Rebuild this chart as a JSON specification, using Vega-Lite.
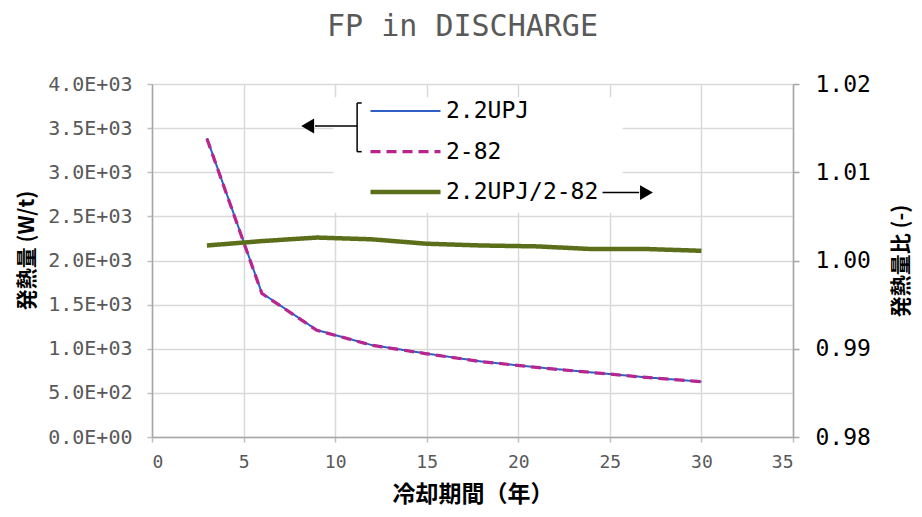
{
  "$schema": "https://vega.github.io/schema/vega-lite/v6.json",
  "autosize": "none",
  "width": 641,
  "height": 353,
  "padding": {"left": 152, "top": 84, "right": 129, "bottom": 80},
  "background": "white",
  "title": {"text": "FP in DISCHARGE", "fontSize": 30, "font": "DejaVu Sans Mono", "fontWeight": "normal", "color": "#595959", "offset": 31, "dx": -10, "anchor": "middle"},
  "config": {
    "view": {"stroke": null},
    "font": "Noto Sans CJK JP"
  },
  "datasets": {
    "heat": [
      {"t": 3, "series": "2.2UPJ", "value": 3385},
      {"t": 6, "series": "2.2UPJ", "value": 1630},
      {"t": 9, "series": "2.2UPJ", "value": 1212},
      {"t": 12, "series": "2.2UPJ", "value": 1042},
      {"t": 15, "series": "2.2UPJ", "value": 945},
      {"t": 18, "series": "2.2UPJ", "value": 855},
      {"t": 21, "series": "2.2UPJ", "value": 790},
      {"t": 24, "series": "2.2UPJ", "value": 732},
      {"t": 27, "series": "2.2UPJ", "value": 676},
      {"t": 30, "series": "2.2UPJ", "value": 627},
      {"t": 3, "series": "2-82", "value": 3379},
      {"t": 6, "series": "2-82", "value": 1626},
      {"t": 9, "series": "2-82", "value": 1209},
      {"t": 12, "series": "2-82", "value": 1040},
      {"t": 15, "series": "2-82", "value": 943},
      {"t": 18, "series": "2-82", "value": 854},
      {"t": 21, "series": "2-82", "value": 789},
      {"t": 24, "series": "2-82", "value": 731},
      {"t": 27, "series": "2-82", "value": 675},
      {"t": 30, "series": "2-82", "value": 626}
    ],
    "ratio": [
      {"t": 3, "series": "2.2UPJ/2-82", "value": 1.0017},
      {"t": 6, "series": "2.2UPJ/2-82", "value": 1.0022},
      {"t": 9, "series": "2.2UPJ/2-82", "value": 1.0026},
      {"t": 12, "series": "2.2UPJ/2-82", "value": 1.0024},
      {"t": 15, "series": "2.2UPJ/2-82", "value": 1.0019},
      {"t": 18, "series": "2.2UPJ/2-82", "value": 1.0017},
      {"t": 21, "series": "2.2UPJ/2-82", "value": 1.0016},
      {"t": 24, "series": "2.2UPJ/2-82", "value": 1.0013},
      {"t": 27, "series": "2.2UPJ/2-82", "value": 1.0013},
      {"t": 30, "series": "2.2UPJ/2-82", "value": 1.0011}
    ],
    "legendBox": [
      {"x1": 9.9, "x2": 25.7, "y1": 2540, "y2": 3850}
    ],
    "arrowLines": [
      {"part": "leftArrow", "x1": 8.9, "x2": 11.2, "y1": 3524, "y2": 3524},
      {"part": "bracket", "x1": 11.2, "x2": 11.2, "y1": 3785, "y2": 3233},
      {"part": "bracketTop", "x1": 11.2, "x2": 11.45, "y1": 3785, "y2": 3785},
      {"part": "bracketBottom", "x1": 11.2, "x2": 11.45, "y1": 3233, "y2": 3233},
      {"part": "rightArrow", "x1": 24.6, "x2": 26.6, "y1": 2770, "y2": 2770}
    ],
    "arrowHeads": [
      {"x": 8.5, "y": 3524, "shape": "triangle-left"},
      {"x": 27.0, "y": 2770, "shape": "triangle-right"}
    ]
  },
  "layer": [
    {
      "layer": [
        {
          "data": {"name": "legendBox"},
          "mark": {"type": "rect", "color": "white", "opacity": 1},
          "encoding": {
            "x": {"field": "x1", "type": "quantitative"},
            "x2": {"field": "x2"},
            "y": {"field": "y1", "type": "quantitative"},
            "y2": {"field": "y2"}
          }
        },
        {
          "data": {"name": "heat"},
          "mark": {"type": "line", "clip": false},
          "encoding": {
            "x": {
              "field": "t", "type": "quantitative",
              "scale": {"domain": [0, 35], "nice": false},
              "axis": {
                "values": [0, 5, 10, 15, 20, 25, 30, 35],
                "title": "冷却期間（年）",
                "titleFont": "Noto Sans CJK JP",
                "titleFontSize": 23, "titleFontWeight": "bold", "titleColor": "black", "titlePadding": 12,
                "labelFont": "DejaVu Sans Mono",
                "labelFontSize": 18, "labelColor": "#595959", "labelPadding": 11,
                "grid": true, "gridColor": "#d9d9d9", "gridWidth": 1.5,
                "domainColor": "#a6a6a6", "domainWidth": 1.5,
                "ticks": true, "tickSize": 5, "tickColor": "#bfbfbf", "tickWidth": 1.5
              }
            },
            "y": {
              "field": "value", "type": "quantitative",
              "scale": {"domain": [0, 4000], "nice": false},
              "axis": {
                "orient": "left",
                "values": [0, 250, 500, 750, 1000, 1250, 1500, 1750, 2000, 2250, 2500, 2750, 3000, 3250, 3500, 3750, 4000],
                "labelExpr": "datum.value % 500 != 0 ? '' : (datum.value == 0 ? '0.0E+00' : (datum.value < 1000 ? format(datum.value / 100, '.1f') + 'E+02' : format(datum.value / 1000, '.1f') + 'E+03'))",
                "title": "発熱量 (W/t)",
                "titleFont": "Noto Sans CJK JP",
                "titleFontSize": 21, "titleFontWeight": "bold", "titleColor": "black", "titlePadding": 10, "titleY": 166,
                "labelFont": "DejaVu Sans Mono",
                "labelFontSize": 20, "labelColor": "#595959", "labelPadding": 15,
                "grid": true, "gridColor": "#d9d9d9", "gridWidth": 1.5,
                "domainColor": "#a6a6a6", "domainWidth": 1.5,
                "ticks": true, "tickSize": 5, "tickColor": "#bfbfbf", "tickWidth": 1.5
              }
            },
            "color": {
              "field": "series", "type": "nominal",
              "scale": {"domain": ["2.2UPJ", "2-82", "2.2UPJ/2-82"], "range": ["#2f5ec4", "#b8258c", "#5b6f1a"]},
              "legend": {
                "title": null, "orient": "none", "legendX": 210, "legendY": 3,
                "symbolType": "stroke", "symbolSize": 4900, "clipHeight": 36,
                "labelFontSize": 23, "labelColor": "black", "labelFont": "DejaVu Sans Mono",
                "padding": 6, "rowPadding": 4.5, "labelOffset": 3
              }
            },
            "strokeDash": {
              "field": "series", "type": "nominal",
              "scale": {"domain": ["2.2UPJ", "2-82", "2.2UPJ/2-82"], "range": [[1, 0], [10, 6], [1, 0]]},
              "legend": {
                "title": null, "orient": "none", "legendX": 210, "legendY": 3,
                "symbolType": "stroke", "symbolSize": 4900, "clipHeight": 36,
                "labelFontSize": 23, "labelColor": "black", "labelFont": "DejaVu Sans Mono",
                "padding": 6, "rowPadding": 4.5, "labelOffset": 3
              }
            },
            "strokeWidth": {
              "field": "series", "type": "nominal",
              "scale": {"domain": ["2.2UPJ", "2-82", "2.2UPJ/2-82"], "range": [2, 4.5, 5.5]},
              "legend": {
                "title": null, "orient": "none", "legendX": 210, "legendY": 3,
                "symbolType": "stroke", "symbolSize": 4900, "clipHeight": 36,
                "labelFontSize": 23, "labelColor": "black", "labelFont": "DejaVu Sans Mono",
                "padding": 6, "rowPadding": 4.5, "labelOffset": 3
              }
            },
            "order": {"field": "series", "sort": "descending"}
          }
        },
        {
          "data": {"name": "arrowLines"},
          "mark": {"type": "rule", "color": "black", "strokeWidth": 1.5},
          "encoding": {
            "x": {"field": "x1", "type": "quantitative"},
            "x2": {"field": "x2"},
            "y": {"field": "y1", "type": "quantitative"},
            "y2": {"field": "y2"}
          }
        },
        {
          "data": {"name": "arrowHeads"},
          "mark": {"type": "point", "filled": true, "color": "black", "size": 220, "opacity": 1},
          "encoding": {
            "x": {"field": "x", "type": "quantitative"},
            "y": {"field": "y", "type": "quantitative"},
            "shape": {"field": "shape", "type": "nominal", "scale": {"domain": ["triangle-left", "triangle-right"], "range": ["triangle-left", "triangle-right"]}, "legend": null}
          }
        }
      ]
    },
    {
      "data": {"name": "ratio"},
      "mark": {"type": "line", "clip": false},
      "encoding": {
        "x": {"field": "t", "type": "quantitative"},
        "y": {
          "field": "value", "type": "quantitative",
          "scale": {"domain": [0.98, 1.02], "nice": false, "zero": false},
          "axis": {
            "orient": "right",
            "values": [0.98, 0.99, 1.0, 1.01, 1.02],
            "format": ".2f",
            "title": "発熱量比 (-)", "titleAngle": 270, "titleBaseline": "top",
            "titleFont": "Noto Sans CJK JP",
            "titleFontSize": 21, "titleFontWeight": "bold", "titleColor": "black", "titlePadding": 20,
            "labelFont": "DejaVu Sans Mono",
            "labelFontSize": 23, "labelColor": "black", "labelPadding": 16,
            "grid": false,
            "domainColor": "#a6a6a6", "domainWidth": 1.5,
            "ticks": true, "tickColor": "#a6a6a6", "tickSize": 6, "tickWidth": 1.5
          }
        },
        "color": {"field": "series", "type": "nominal"},
        "strokeDash": {"field": "series", "type": "nominal"},
        "strokeWidth": {"field": "series", "type": "nominal"}
      }
    }
  ],
  "resolve": {"scale": {"y": "independent"}}
}
